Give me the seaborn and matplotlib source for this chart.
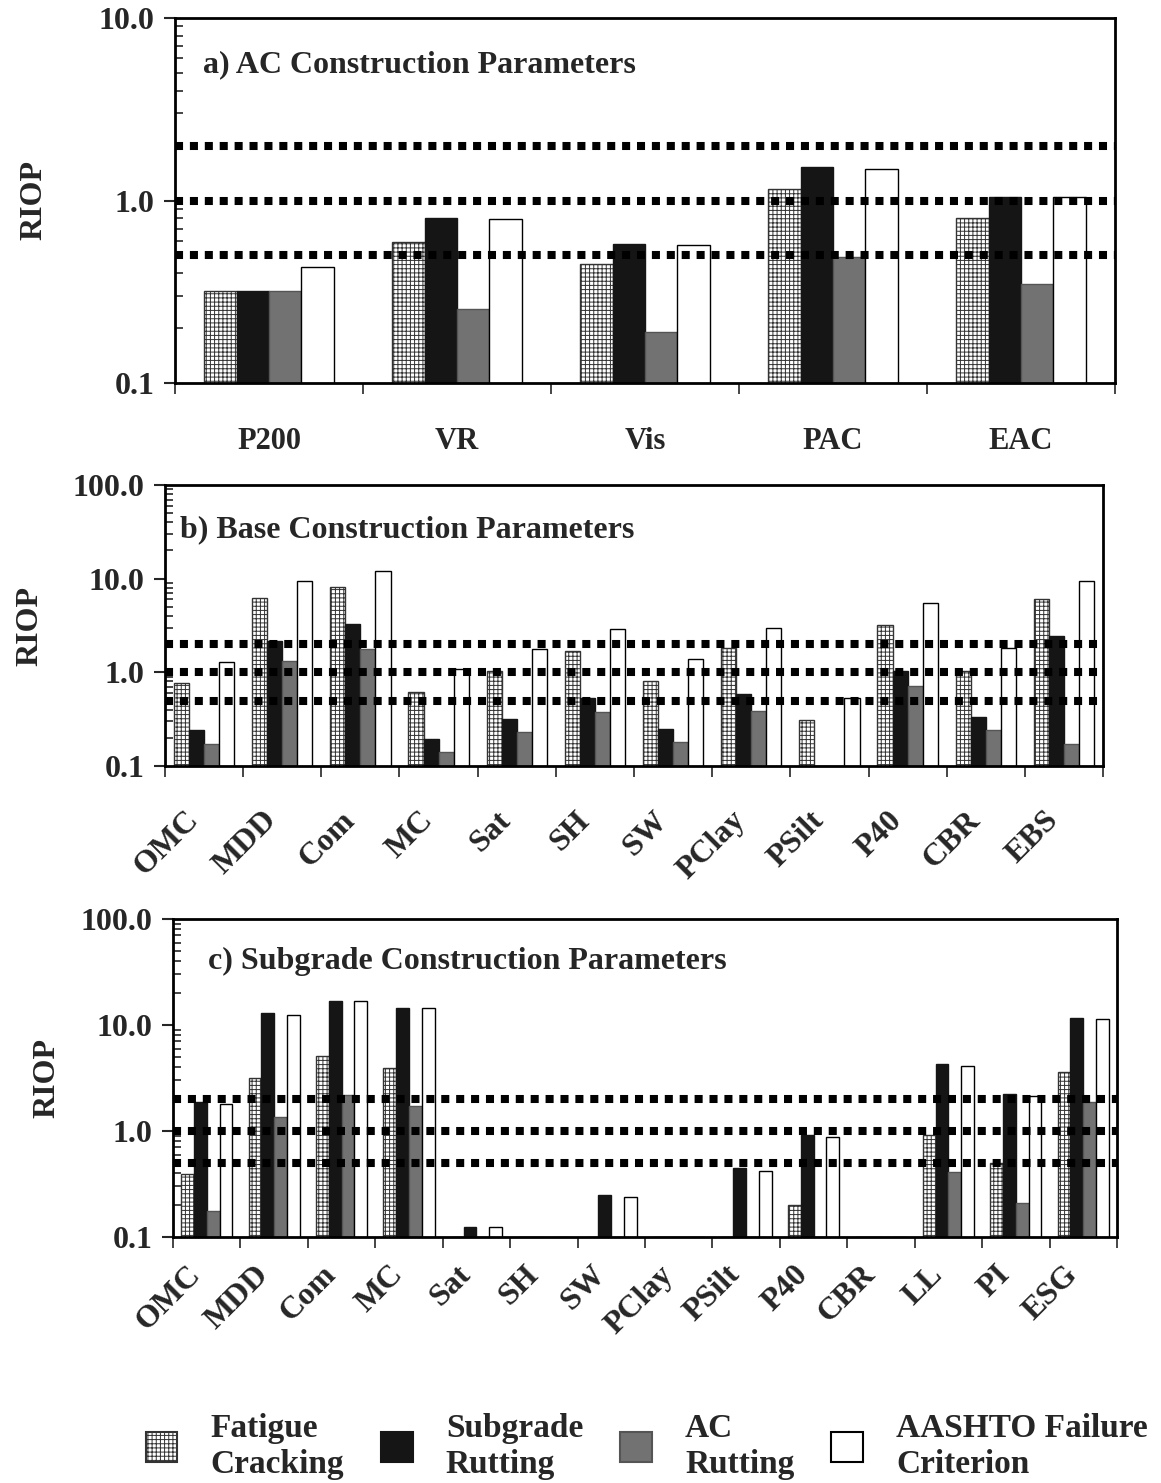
import numpy as np
import pandas as pd
import matplotlib
matplotlib.use("Agg")
import matplotlib.pyplot as plt
import matplotlib.transforms as mtransforms
import seaborn as sns
from matplotlib.ticker import FixedLocator, FuncFormatter, NullFormatter
from matplotlib.patches import Patch

# ---------------- data ----------------
series = ["Fatigue\nCracking", "Subgrade\nRutting", "AC\nRutting", "AASHTO Failure\nCriterion"]

a_params = ["P200", "VR", "Vis", "PAC", "EAC"]
a_fatigue = [0.32, 0.59, 0.45, 1.15, 0.80]
a_subgrade = [0.32, 0.80, 0.58, 1.52, 1.05]
a_acrut = [0.32, 0.255, 0.19, 0.49, 0.35]
a_aashto = [0.43, 0.79, 0.57, 1.48, 1.05]

b_params = ["OMC", "MDD", "Com", "MC", "Sat", "SH", "SW", "PClay", "PSilt", "P40", "CBR", "EBS"]
b_fatigue = [0.76, 6.2, 8.1, 0.62, 1.03, 1.68, 0.80, 1.80, 0.31, 3.2, 1.04, 6.0]
b_subgrade = [0.24, 2.15, 3.3, 0.195, 0.32, 0.53, 0.25, 0.59, 0.1, 1.03, 0.335, 2.45]
b_acrut = [0.17, 1.31, 1.77, 0.14, 0.23, 0.38, 0.18, 0.39, 0.1, 0.71, 0.24, 0.17]
b_aashto = [1.29, 9.5, 12.2, 1.08, 1.79, 2.89, 1.38, 3.0, 0.53, 5.5, 1.82, 9.45]

c_params = ["OMC", "MDD", "Com", "MC", "Sat", "SH", "SW", "PClay", "PSilt", "P40", "CBR", "LL", "PI", "ESG"]
c_fatigue = [0.39, 3.17, 5.1, 3.9, 0.1, 0.1, 0.1, 0.1, 0.1, 0.2, 0.1, 0.91, 0.50, 3.6]
c_subgrade = [1.87, 12.9, 16.7, 14.6, 0.125, 0.1, 0.25, 0.1, 0.45, 0.91, 0.1, 4.27, 2.25, 11.7]
c_acrut = [0.176, 1.35, 2.2, 1.71, 0.1, 0.1, 0.1, 0.1, 0.1, 0.1, 0.1, 0.41, 0.21, 1.87]
c_aashto = [1.80, 12.3, 16.7, 14.6, 0.125, 0.1, 0.24, 0.1, 0.42, 0.87, 0.1, 4.08, 2.12, 11.3]

ref_lines = [0.5, 1.0, 2.0]

titles = ["a) AC Construction Parameters", "b) Base Construction Parameters",
          "c) Subgrade Construction Parameters"]

# ---------------- style ----------------
sns.set_theme(style="white")
plt.rcParams["font.family"] = ["Liberation Serif", "DejaVu Serif"]
plt.rcParams["font.weight"] = "bold"
plt.rcParams["hatch.linewidth"] = 0.7

faces = ["white", "#151515", "#727272", "white"]
edges = ["#333333", "#151515", "#555555", "black"]
hatches = ["++++", None, None, None]

fig = plt.figure(figsize=(11.61, 14.83), dpi=100)
W, H = 1161, 1483


def make_ax(left, right, top, bottom):
    return fig.add_axes([left / W, 1 - bottom / H, (right - left) / W, (bottom - top) / H])


def panel(ax, params, vals, width, ymax, title, title_xy, rotate, ylab_x, xpad):
    df = pd.DataFrame({
        "param": [p for s in series for p in params],
        "series": [s for s in series for _ in params],
        "value": [v for arr in vals for v in arr],
    })
    sns.barplot(data=df, x="param", y="value", hue="series", hue_order=series,
                order=params, palette=dict(zip(series, faces)), width=width,
                saturation=1, legend=False, ax=ax, err_kws={"linewidth": 0})
    for cont, fc, ec, ht in zip(ax.containers, faces, edges, hatches):
        for bar in cont:
            bar.set_facecolor(fc)
            bar.set_edgecolor(ec)
            bar.set_linewidth(1.0)
            if ht:
                bar.set_hatch(ht)
    ax.set_yscale("log")
    ax.set_ylim(0.1, ymax)
    n = len(params)
    ax.set_xlim(-0.5, n - 0.5)
    for y in ref_lines:
        ax.axhline(y, color="black", lw=5.8, linestyle=(0, (1, 0.85)),
                   dash_capstyle="butt", zorder=5)
    majors = [0.1, 1.0, 10.0] + ([100.0] if ymax > 10 else [])
    ax.yaxis.set_major_locator(FixedLocator(majors))
    ax.yaxis.set_major_formatter(FuncFormatter(lambda v, p: f"{v:.1f}"))
    minors = [m * 10.0 ** e for e in range(-1, 2) for m in range(2, 10) if m * 10.0 ** e < ymax]
    ax.yaxis.set_minor_locator(FixedLocator(minors))
    ax.yaxis.set_minor_formatter(NullFormatter())
    ax.tick_params(axis="y", which="major", direction="out", length=8, width=1.5,
                   labelsize=23, pad=7, left=True)
    ax.tick_params(axis="y", which="minor", direction="in", length=6, width=1.2, left=True)
    ax.xaxis.set_minor_locator(FixedLocator(np.arange(-0.5, n, 1.0)))
    ax.tick_params(axis="x", which="minor", direction="out", length=8, width=1.2, bottom=True)
    ax.tick_params(axis="x", which="major", length=0, labelsize=22)
    if rotate:
        ax.tick_params(axis="x", which="major", pad=xpad, labelsize=23)
        off = mtransforms.ScaledTranslation(-10 / 100, 0, fig.dpi_scale_trans)
        for lab in ax.get_xticklabels():
            lab.set_rotation(45)
            lab.set_ha("right")
            lab.set_va("center")
            lab.set_rotation_mode("anchor")
            lab.set_transform(lab.get_transform() + off)
    else:
        ax.tick_params(axis="x", which="major", pad=xpad)
    ax.set_xlabel("")
    ax.set_ylabel("RIOP", fontsize=23, fontweight="bold")
    ax.yaxis.set_label_coords(ylab_x, 0.5)
    for sp in ax.spines.values():
        sp.set_visible(True)
        sp.set_color("black")
        sp.set_linewidth(2.0)
    ax.text(title_xy[0], title_xy[1], title, transform=ax.transAxes, fontsize=23,
            fontweight="bold", va="center", ha="left")
    ax.grid(False)


ax_a = make_ax(175, 1115, 18, 383)
panel(ax_a, a_params, [a_fatigue, a_subgrade, a_acrut, a_aashto], 0.69, 10.0,
      titles[0], (0.030, 0.871), False, -0.135, 32)

ax_b = make_ax(165, 1103, 485, 766)
panel(ax_b, b_params, [b_fatigue, b_subgrade, b_acrut, b_aashto], 0.77, 100.0,
      titles[1], (0.016, 0.84), True, -0.128, 36)

ax_c = make_ax(173, 1117, 919, 1237)
panel(ax_c, c_params, [c_fatigue, c_subgrade, c_acrut, c_aashto], 0.76, 100.0,
      titles[2], (0.037, 0.865), True, -0.118, 24)

handles = [Patch(facecolor=fc, edgecolor=ec, hatch=ht, linewidth=1.5)
           for fc, ec, ht in zip(faces, edges, ["++++", None, None, None])]
fig.legend(handles, series, loc="center", bbox_to_anchor=(0.557, 0.0245), ncol=4,
           frameon=False, prop={"family": "Liberation Serif", "weight": "bold", "size": 24},
           handlelength=0.95, handleheight=1.0, handletextpad=1.0, columnspacing=1.1,
           labelspacing=0.3)

fig.savefig("out.png", dpi=100)
